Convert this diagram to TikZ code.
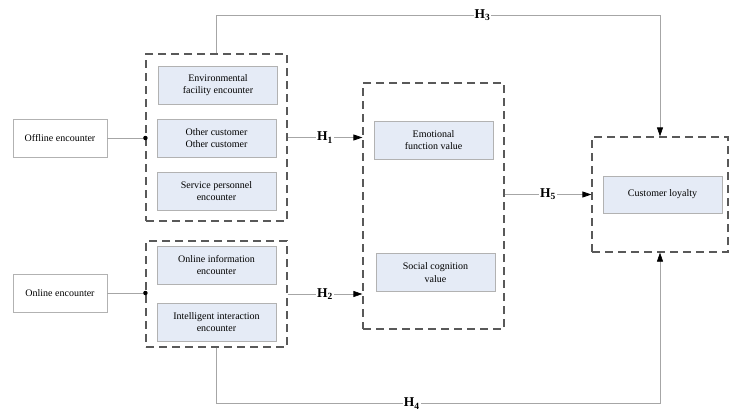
\documentclass[tikz,border=0pt]{standalone}
\usepackage{fontspec}
\setmainfont{Liberation Serif}
\usetikzlibrary{arrows.meta, positioning}
\definecolor{itemfill}{RGB}{229,235,246}

\begin{document}
\begin{tikzpicture}[x=1pt, y=-1pt,
      src/.style={rectangle, draw=black!30, minimum width=94pt, minimum height=38pt,
        align=center, font=\fontsize{10}{12.5}\selectfont},
      item/.style={rectangle, draw=black!30, fill=itemfill, minimum width=119pt,
        minimum height=38pt, align=center, font=\fontsize{10}{12.5}\selectfont},
      grp/.style={rectangle, draw=black!65, line width=1.2pt, dash pattern=on 8pt off 5pt},
      link/.style={draw=black!35, line width=0.7pt},
      tip/.style={-{Triangle[color=black, length=9pt, width=6pt]}},
      hlab/.style={fill=white, inner sep=1pt, font=\fontsize{13.5}{13.5}\selectfont\bfseries},
      dot/.style={circle, fill=black, inner sep=0pt, minimum size=4.5pt}
    ]
      \useasboundingbox (0,0) rectangle (732,410);

      % groups
      \node[grp, minimum width=141pt, minimum height=167pt] (grpOff) at (216.5,137.5) {};
      \node[grp, minimum width=141pt, minimum height=106pt] (grpOn) at (216.5,294) {};
      \node[grp, minimum width=141pt, minimum height=246pt] (grpVal) at (433.5,206) {};
      \node[grp, minimum width=136pt, minimum height=115pt] (grpLoy) at (660,194.5) {};

      % sources
      \node[src] (offline) at (60,138) {Offline encounter};
      \node[src] (online) at (60,293) {Online encounter};

      \node[item] (env) at (218,85) {Environmental\\facility encounter};
      \node[item] (other) at (216.5,138) {Other customer\\Other customer};
      \node[item] (serv) at (216.5,191) {Service personnel\\encounter};
      \node[item] (info) at (216.5,265) {Online information\\encounter};
      \node[item] (intel) at (216.5,322) {Intelligent interaction\\encounter};

      \node[item] (emo) at (433.5,140) {Emotional\\function value};
      \node[item] (soc) at (435.5,272.5) {Social cognition\\value};
      \node[item, minimum height=37pt] (loy) at (662.5,194.5) {Customer loyalty};

      % links
      \node[dot] (dotOff) at (grpOff.west |- offline) {};
      \node[dot] (dotOn) at (grpOn.west |- online) {};
      \draw[link] (offline) -- (dotOff);
      \draw[link] (online) -- (dotOn);

      \draw[link, tip] (grpOff.east) -- node[hlab] {H\textsubscript{1}} (grpOff.east -| grpVal.west);
      \draw[link, tip] (grpOn.east) -- node[hlab] {H\textsubscript{2}} (grpOn.east -| grpVal.west);
      \draw[link, tip] (grpLoy.west -| grpVal.east) -- node[hlab] {H\textsubscript{5}} (grpLoy.west);
      \draw[link, tip] (grpOff.north) -- ++(0,-38) -| node[hlab, pos=0.3] {H\textsubscript{3}} (grpLoy.north);
      \draw[link, tip] (grpOn.south) -- ++(0,56) -| node[hlab, pos=0.22] {H\textsubscript{4}} (grpLoy.south);
    \end{tikzpicture}
\end{document}
